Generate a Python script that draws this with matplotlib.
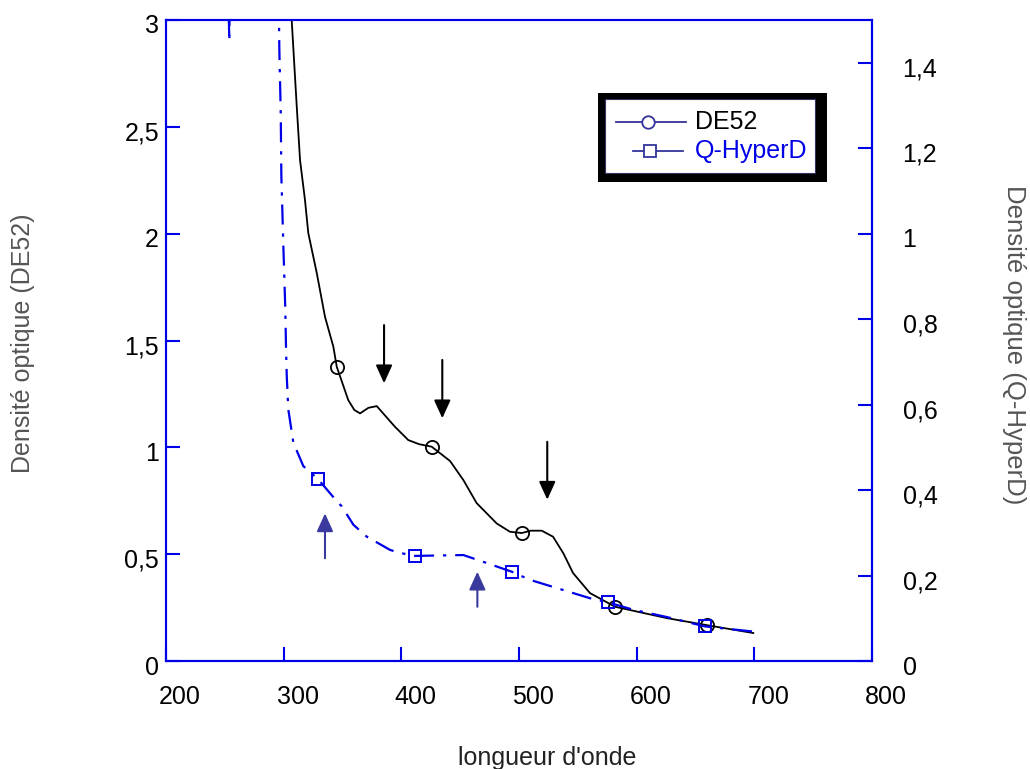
import matplotlib
matplotlib.use("Agg")
import matplotlib.pyplot as plt
from matplotlib.patches import Rectangle
from matplotlib.lines import Line2D
from matplotlib.transforms import ScaledTranslation

plt.rcParams["font.family"] = ["Liberation Sans", "DejaVu Sans"]

# DE52 spectrum (left axis)
de52_wl = [305.5, 306.8, 311.1, 313.9, 318.1, 320.9, 328.1, 335.1, 342.2, 345.1,
           354.9, 360.0, 364.9, 372.0, 379.1, 394.6, 405.9, 415.0, 425.8, 441.4,
           452.7, 464.0, 481.0, 492.3, 502.3, 510.0, 519.3, 528.9, 537.7, 545.9,
           560.3, 581.6, 625.5, 659.5, 699.1]
de52_od = [3.30, 3.00, 2.594, 2.344, 2.157, 2.003, 1.816, 1.611, 1.471, 1.377,
           1.221, 1.175, 1.159, 1.185, 1.193, 1.096, 1.034, 1.015, 1.003, 0.936,
           0.847, 0.739, 0.644, 0.605, 0.599, 0.610, 0.610, 0.582, 0.504, 0.412,
           0.318, 0.254, 0.201, 0.168, 0.131]
de52_marks = [9, 18, 24, 31, 33]

# Q-HyperD spectrum (right axis)
qh_wl = [253.3, 253.8, 254.3, 295.8, 296.0, 296.3, 296.9, 297.5, 298.0, 299.7,
         301.3, 302.0, 302.6, 303.9, 308.2, 316.7, 329.4, 343.6, 349.3, 359.2,
         370.6, 390.4, 398.9, 411.6, 452.7, 469.7, 493.8, 509.3, 523.5, 560.3,
         575.9, 597.1, 625.5, 658.1, 699.1]
qh_od = [1.51, 1.45, 1.62, 1.62, 1.50, 1.43, 1.356, 1.28, 1.136, 0.972,
         0.83, 0.73, 0.667, 0.589, 0.511, 0.456, 0.425, 0.379, 0.362, 0.319,
         0.291, 0.260, 0.253, 0.246, 0.248, 0.232, 0.209, 0.190, 0.178, 0.147,
         0.137, 0.120, 0.103, 0.081, 0.069]
qh_marks = [16, 23, 26, 30, 33]

# peak arrows (x, y_tail, y_tip) in left-axis units
down_arrows = [(385.3, 1.572, 1.300), (434.8, 1.409, 1.136), (524.0, 1.026, 0.755)]
up_arrows = [(335.1, 0.481, 0.691), (464.6, 0.254, 0.418)]

x_ticks = [200, 300, 400, 500, 600, 700, 800]
left_ticks = [0, 0.5, 1, 1.5, 2, 2.5, 3]
right_ticks = [0, 0.2, 0.4, 0.6, 0.8, 1, 1.2, 1.4]

BLUE = "#0000E8"
SPINE = "#0000E8"
ARROW_BLUE = "#3A3A9E"
LEG_LINE = "#33339A"
FS = 18


def fmt(v):
    return f"{v:g}".replace(".", ",")


fig = plt.figure(figsize=(10.30, 7.69), dpi=100)
ax = fig.add_axes([0.1612, 0.1404, 0.6854, 0.8336])
ax2 = ax.twinx()

ax.plot(de52_wl, de52_od, color="black", lw=1.3, marker="o", ms=9.5,
        mfc="none", mec="black", mew=1.3, markevery=de52_marks, zorder=3)
ax2.plot(qh_wl, qh_od, color=BLUE, lw=1.6, dashes=[9, 4, 1.5, 4],
         marker="s", ms=9, mfc="none", mec=BLUE, mew=1.4,
         markevery=qh_marks, zorder=3)

for x, y0, y1 in down_arrows:
    ax.annotate("", xy=(x, y1), xytext=(x, y0),
                arrowprops=dict(arrowstyle="-|>,head_length=0.55,head_width=0.25",
                                color="black", lw=1.5, mutation_scale=20,
                                shrinkA=0, shrinkB=0))
for x, y0, y1 in up_arrows:
    ax.annotate("", xy=(x, y1), xytext=(x, y0),
                arrowprops=dict(arrowstyle="-|>,head_length=0.55,head_width=0.25",
                                color=ARROW_BLUE, lw=1.5, mutation_scale=20,
                                shrinkA=0, shrinkB=0))

ax.set_xlim(200, 800)
ax.set_ylim(0, 3)
ax2.set_ylim(0, 1.5)

ax.set_xticks(x_ticks)
ax.set_xticklabels([fmt(v) for v in x_ticks])
ax.set_yticks(left_ticks)
ax.set_yticklabels([fmt(v) for v in left_ticks])
ax2.set_yticks(right_ticks)
ax2.set_yticklabels([fmt(v) for v in right_ticks])

ax.tick_params(axis="x", direction="in", length=10, width=1.5, color=SPINE,
               labelsize=FS, pad=17)
ax.tick_params(axis="y", direction="in", length=10, width=1.5, color=SPINE,
               labelsize=FS, pad=5)
ax2.tick_params(axis="y", direction="in", length=10, width=1.5, color=SPINE,
                labelsize=FS, pad=22)
for lab in ax2.get_yticklabels():
    lab.set_horizontalalignment("left")

for a in (ax, ax2):
    for sp in a.spines.values():
        sp.set_color(SPINE)
        sp.set_linewidth(1.5)

dx = ScaledTranslation(14 / 100, 0, fig.dpi_scale_trans)
dy = ScaledTranslation(0, -4 / 100, fig.dpi_scale_trans)
for lab in ax.get_xticklabels():
    lab.set_transform(lab.get_transform() + dx)
for lab in ax.get_yticklabels() + ax2.get_yticklabels():
    lab.set_transform(lab.get_transform() + dy)

ax.set_xlabel("longueur d'onde", fontsize=FS, color="#222222", va="center")
ax.xaxis.set_label_coords(0.540, -0.151)
ax.set_ylabel("Densité optique (DE52)", fontsize=FS, color="#555555",
              ha="center", va="center")
ax.yaxis.set_label_coords(-0.2025, 0.496)
ax2.set_ylabel("Densité optique (Q-HyperD)", fontsize=FS + 0.5, color="#555555",
               rotation=270, ha="center", va="center")
ax2.yaxis.set_label_coords(1.201, 0.493)

# legend box with heavy black frame
t = ax2.transAxes
ax2.add_patch(Rectangle((0.612, 0.747), 0.324, 0.139, transform=t,
                        facecolor="black", edgecolor="none", zorder=10))
ax2.add_patch(Rectangle((0.622, 0.761), 0.297, 0.116, transform=t,
                        facecolor="white", edgecolor="#333366", lw=0.8, zorder=11))
ax2.add_line(Line2D([0.638, 0.737], [0.841, 0.841], transform=t, color=LEG_LINE,
                    lw=1.3, zorder=12))
ax2.add_line(Line2D([0.683], [0.841], transform=t, color=LEG_LINE, marker="o",
                    ms=9, mfc="white", mew=1.3, zorder=13))
ax2.add_line(Line2D([0.662, 0.732], [0.796, 0.796], transform=t, color=LEG_LINE,
                    lw=1.3, zorder=12))
ax2.add_line(Line2D([0.685], [0.796], transform=t, color=LEG_LINE, marker="s",
                    ms=9, mfc="white", mew=1.3, zorder=13))
ax2.text(0.749, 0.841, "DE52", transform=t, fontsize=18, color="black",
         va="center", ha="left", zorder=13)
ax2.text(0.749, 0.796, "Q-HyperD", transform=t, fontsize=18, color=BLUE,
         va="center", ha="left", zorder=13)

fig.savefig("out.png", dpi=100, facecolor="white")
